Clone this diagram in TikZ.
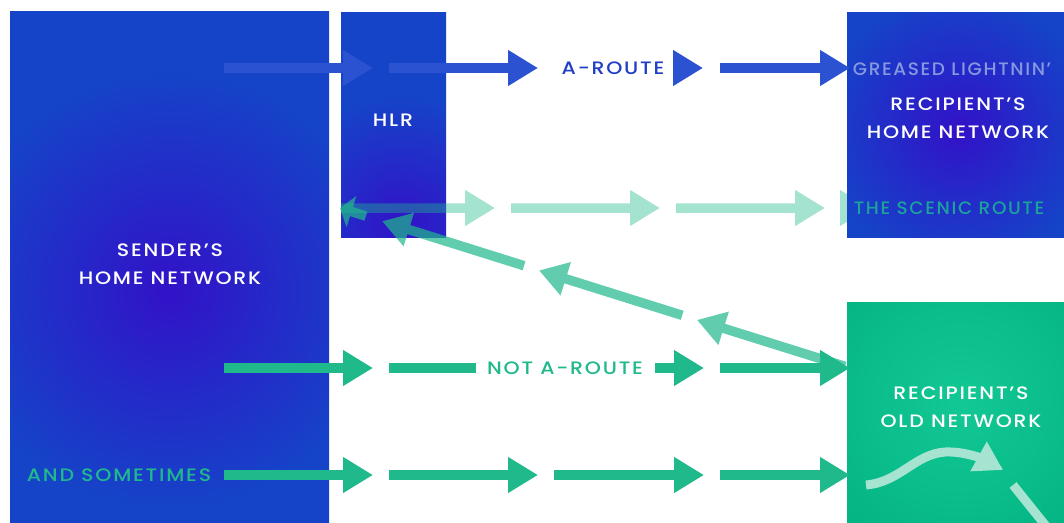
\documentclass[tikz,border=0pt]{standalone}
\usepackage{fontspec}
\setmainfont{Poppins}[UprightFont={* Medium}, FakeStretch=1.14, LetterSpace=10]
\usetikzlibrary{arrows.meta,calc}
\definecolor{netblue}{HTML}{1544C8}
\definecolor{netpurple}{HTML}{3212C8}
\definecolor{netgreen}{HTML}{04B483}
\definecolor{netmint}{HTML}{12C894}
\definecolor{arblue}{HTML}{2B52D0}
\definecolor{arlabel}{HTML}{1F3FC6}
\definecolor{routegreen}{HTML}{20B98C}
\definecolor{paleflow}{HTML}{A6E3D1}
\definecolor{greased}{HTML}{8797E0}
\definecolor{scenictext}{HTML}{1AA29B}
% glows, for a 1200pt square round the centre
\pgfdeclareradialshading{senderglow}{\pgfpoint{0bp}{0bp}}{color(0bp)=(netpurple);color(9.2bp)=(netblue);color(50bp)=(netblue)}
\pgfdeclareradialshading{hlrglow}{\pgfpoint{0bp}{0bp}}{color(0bp)=(netpurple);color(5.4bp)=(netblue);color(50bp)=(netblue)}
\pgfdeclareradialshading{homeglow}{\pgfpoint{0bp}{0bp}}{color(0bp)=(netpurple);color(5.8bp)=(netblue);color(50bp)=(netblue)}
\pgfdeclareradialshading{oldglow}{\pgfpoint{0bp}{0bp}}{color(0bp)=(netmint);color(7.1bp)=(netgreen);color(50bp)=(netgreen)}
\tikzstyle{net} = [rectangle, inner sep=0pt, outer sep=0pt]
\tikzstyle{netlabel} = [text=white, align=center, inner sep=0pt, font=\fontsize{18pt}{28pt}\selectfont]
\tikzstyle{routelabel} = [inner sep=0pt, font=\fontsize{18pt}{28pt}\selectfont]
\tikzstyle{narrow} = [transform shape, xscale=0.9]
\tikzstyle{flow} = [line width=9.5pt, -{Triangle[length=30pt,width=34pt]}]
\tikzstyle{aroute} = [flow, draw=arblue]
\tikzstyle{notroute} = [flow, draw=routegreen]
\tikzstyle{scenic} = [flow, draw=routegreen]
\tikzstyle{backroute} = [flow, draw=routegreen, -{Triangle[length=28pt,width=33pt]}]
\tikzstyle{wavy} = [line width=9pt, draw=paleflow, -{Triangle[length=28pt,width=32pt]}]

\begin{document}
\begin{tikzpicture}[x=1pt,y=-1pt]
  \useasboundingbox (0,0) rectangle (1064,522);
  \fill[white] (0,0) rectangle (1064,522);
  % networks
  \node[net, minimum width=319pt, minimum height=519pt,
    path picture={\shade[shading=senderglow] ([yshift=-20pt]path picture bounding box.center) +(-600pt,-600pt) rectangle +(600pt,600pt);}]
    (sender) at (169.5,270.5) {};
  \node[net, minimum width=105pt, minimum height=225pt,
    path picture={\shade[shading=hlrglow] ([xshift=8pt,yshift=-100pt]path picture bounding box.center) +(-600pt,-600pt) rectangle +(600pt,600pt);}]
    (hlr) at (393.5,124.5) {};
  \node[net, minimum width=228pt, minimum height=228pt,
    path picture={\shade[shading=oldglow] ([yshift=14pt]path picture bounding box.center) +(-600pt,-600pt) rectangle +(600pt,600pt);}]
    (oldnet) at (961,416) {};
  % scenic head hidden behind the recipient
  \begin{scope}[transparency group, opacity=0.4]
    \coordinate (scenic4s) at (840,208);
    \coordinate (scenic4e) at (870,208);
    \draw[scenic] (scenic4s) -- (scenic4e);
  \end{scope}
  \node[net, minimum width=223pt, minimum height=225pt,
    path picture={\shade[shading=homeglow] ([yshift=-6pt]path picture bounding box.center) +(-600pt,-600pt) rectangle +(600pt,600pt);}]
    (homenet) at (958.5,124.5) {};

  % the scenic route
  \begin{scope}[transparency group, opacity=0.4]
    \foreach \s/\e [count=\i] in {341/495, 511/660, 676/825} {
      \coordinate (scenic\i s) at (\s,208);
      \coordinate (scenic\i e) at (\e,208);
      \draw[scenic] (scenic\i s) -- (scenic\i e);
    }
  \end{scope}
  % back from the old network to the hlr
  \coordinate (oldback) at (847,367);
  \coordinate (hlrback) at (340,208);
  \begin{scope}[transparency group, opacity=0.7]
    \foreach \a/\b in {0.004/0.296, 0.325/0.6075, 0.637/0.917}
      \draw[backroute] ($(oldback)!\a!(hlrback)$) -- ($(oldback)!\b!(hlrback)$);
    \draw[backroute, -{Triangle[length=12pt,width=32pt]}] ($(oldback)!0.949!(hlrback)$) -- (hlrback);
  \end{scope}

  % a-route
  \foreach \s/\e [count=\i] in {224/373, 389/538, 673/703, 720/850} {
    \coordinate (top\i s) at (\s,68);
    \coordinate (top\i e) at (\e,68);
    \draw[aroute] (top\i s) -- (top\i e);
  }
  % not a-route
  \coordinate (mid2s) at (389,368);
  \coordinate (mid2e) at (476,368);
  \draw[notroute, -] (mid2s) -- (mid2e);
  \foreach \s/\e [count=\i] in {224/373, 655/704, 720/850} {
    \coordinate (mid\i a) at (\s,368);
    \coordinate (mid\i b) at (\e,368);
    \draw[notroute] (mid\i a) -- (mid\i b);
  }
  % and sometimes
  \foreach \s/\e [count=\i] in {224/373, 389/538, 554/704, 720/850} {
    \coordinate (low\i s) at (\s,475);
    \coordinate (low\i e) at (\e,475);
    \draw[notroute] (low\i s) -- (low\i e);
  }

  % labels
  \node[netlabel] (senderlabel) at (170,264) {SENDER’S\\HOME NETWORK};
  \node[netlabel] (hlrlabel) at (393,120) {HLR};
  \node[netlabel] (homelabel) at (958,118) {RECIPIENT’S\\HOME NETWORK};
  \node[netlabel] (oldlabel) at (961,407) {RECIPIENT’S\\OLD NETWORK};
  \node[routelabel, text=arlabel] (aroutelabel) at (613,68) {A-ROUTE};
  \node[routelabel, narrow, text=greased] (greasedlabel) at (952,69) {GREASED LIGHTNIN’};
  \node[routelabel, narrow, text=scenictext] (sceniclabel) at (949,208) {THE SCENIC ROUTE};
  \node[routelabel, text=routegreen] (notlabel) at (565,368) {NOT A-ROUTE};
  \node[routelabel, text=routegreen] (sometimeslabel) at (119,475) {AND SOMETIMES};

  % the wiggle inside the old network
  \coordinate (wave1s) at (866,485);
  \coordinate (wave1e) at (1003,470);
  \coordinate (wave2s) at (1013,485);
  \coordinate (wave2e) at (1058,541);
  \draw[wavy] (wave1s) .. controls (900,482) and (915,454) .. (945,452)
    .. controls (965,451) and (985,460) .. (wave1e);
  \draw[wavy, -] (wave2s) -- (wave2e);
\end{tikzpicture}
\end{document}
